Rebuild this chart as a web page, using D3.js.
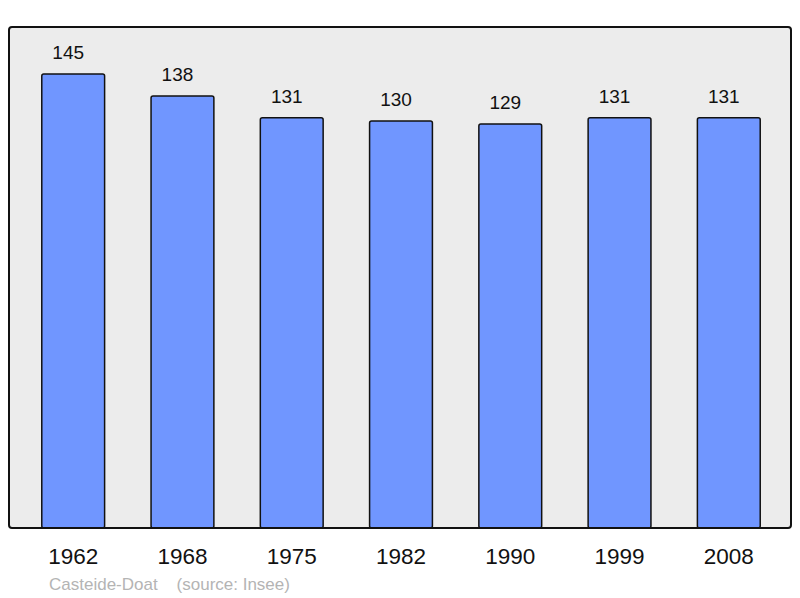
<!DOCTYPE html>
<html>
<head>
<meta charset="utf-8">
<script src="https://cdn.jsdelivr.net/npm/d3@7"></script>
<style>
    body { margin: 0; background: #fff; }
    svg text { font-family: "Liberation Sans", Arial, sans-serif; }
</style>
</head>
<body>
<script>
//population data
var years = ["1962", "1968", "1975", "1982", "1990", "1999", "2008"];
var population = [145, 138, 131, 130, 129, 131, 131];
var commune = "Casteide-Doat";
var source = "(source: Insee)";

window.onload = drawChart();

function drawChart(){

    //svg dimensions
    var width = 800,
        height = 598;

    //frame box
    var frame = { left: 9, top: 27, right: 791, bottom: 528 };

    var svg = d3.select("body")
        .append("svg")
        .attr("width", width)
        .attr("height", height);

    //x band scale for the years
    var x = d3.scaleBand()
        .domain(years)
        .range([9, 793])
        .paddingInner(0.425)
        .paddingOuter(0.3);

    //y scale, zero at the frame bottom
    var y = d3.scaleLinear()
        .domain([0, 160])
        .range([frame.bottom, frame.top]);

    //grey background frame
    svg.append("rect")
        .attr("x", frame.left)
        .attr("y", frame.top)
        .attr("width", frame.right - frame.left)
        .attr("height", frame.bottom - frame.top)
        .attr("rx", 3)
        .attr("fill", "#ececec")
        .attr("stroke", "none");

    //bars
    svg.selectAll(".bar")
        .data(population)
        .enter()
        .append("rect")
        .attr("class", "bar")
        .attr("x", function(d, i){ return x(years[i]); })
        .attr("y", function(d){ return y(d); })
        .attr("width", x.bandwidth())
        .attr("height", function(d){ return y(0) - y(d); })
        .attr("rx", 2)
        .attr("fill", "#7096ff")
        .attr("stroke", "#111")
        .attr("stroke-width", 1.5);

    //frame border on top so it covers the bar bottoms
    svg.append("rect")
        .attr("x", frame.left)
        .attr("y", frame.top)
        .attr("width", frame.right - frame.left)
        .attr("height", frame.bottom - frame.top)
        .attr("rx", 3)
        .attr("fill", "none")
        .attr("stroke", "#111")
        .attr("stroke-width", 2);

    //value labels (sit a little left of the bar centre, like the original)
    svg.selectAll(".value")
        .data(population)
        .enter()
        .append("text")
        .attr("class", "value")
        .attr("x", function(d, i){ return x(years[i]) + x.bandwidth() / 2 - 5; })
        .attr("y", function(d){ return y(d) - 15; })
        .attr("text-anchor", "middle")
        .attr("font-size", "19px")
        .attr("fill", "#111")
        .text(function(d){ return d; });

    //year labels
    svg.selectAll(".year")
        .data(years)
        .enter()
        .append("text")
        .attr("class", "year")
        .attr("x", function(d){ return x(d) + x.bandwidth() / 2; })
        .attr("y", 564)
        .attr("text-anchor", "middle")
        .attr("font-size", "22.5px")
        .attr("fill", "#111")
        .text(function(d){ return d; });

    //source note
    svg.append("text")
        .attr("x", 49)
        .attr("y", 590)
        .attr("font-size", "17px")
        .attr("fill", "#b4b4b4")
        .attr("xml:space", "preserve")
        .style("white-space", "pre")
        .text(commune + "    " + source);
};
</script>
</body>
</html>
